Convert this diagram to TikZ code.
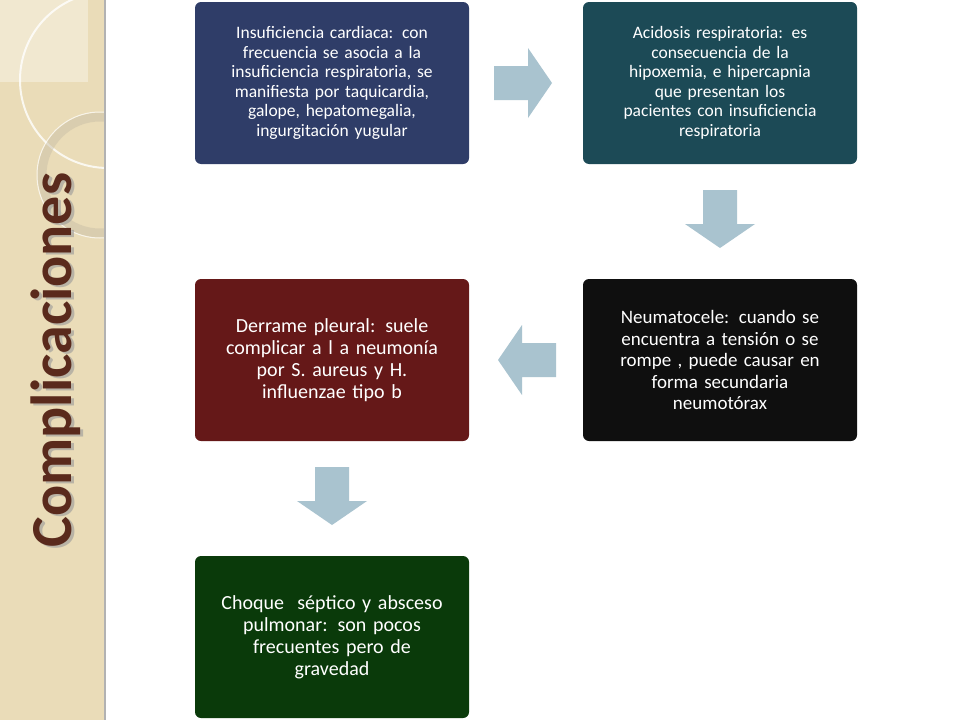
\documentclass[tikz,border=0pt]{standalone}
\usepackage{fontspec}
\setmainfont{Carlito}
\begin{document}
\begin{tikzpicture}[x=1pt,y=-1pt,
  box/.style={rounded corners=6pt,minimum width=274pt,minimum height=162pt,text width=265pt,align=center,text=white,font=\fontsize{17.5}{19.5}\selectfont,inner sep=0pt},
  arr/.style={fill=arrowc,draw=none}]
\definecolor{arrowc}{HTML}{A9C3CF}
\definecolor{c1}{HTML}{2F3D68}
\definecolor{c2}{HTML}{1C4A56}
\definecolor{c3}{HTML}{0F0F0F}
\definecolor{c4}{HTML}{651818}
\definecolor{c5}{HTML}{0A3A0A}
\definecolor{paper}{HTML}{EADCB8}
\definecolor{title}{HTML}{5A2A1C}
\useasboundingbox (0,0) rectangle (960,720);
\fill[white] (0,0) rectangle (960,720);
\begin{scope}
\clip (0,0) rectangle (105,720);
\fill[paper] (0,0) rectangle (105,720);
\fill[white,opacity=0.35] (0,0) rectangle (88,82);
\draw[white,line width=2pt,opacity=0.8] (108,80) circle (88);
\draw[paper!70!gray,line width=9pt,opacity=0.5] (100,175) circle (58);
\draw[white,line width=1pt,opacity=0.7] (100,175) circle (63);
\end{scope}
\draw[gray!60,line width=1.5pt] (105,0) -- (105,720);
\node[rotate=90,font=\fontsize{58}{58}\selectfont\bfseries,text=black!40,opacity=0.6] at (59,362) {Complicaciones};
\node[rotate=90,font=\fontsize{58}{58}\selectfont\bfseries,text=title] (t) at (56,360) {Complicaciones};

\node[box,fill=c1] (b1) at (332,83) {Insuficiencia cardiaca: con\\ frecuencia se asocia a la\\ insuficiencia respiratoria, se\\ manifiesta por taquicardia,\\ galope, hepatomegalia,\\ ingurgitación yugular};
\node[box,fill=c2] (b2) at (720,83) {Acidosis respiratoria: es\\ consecuencia de la\\ hipoxemia, e hipercapnia\\ que presentan los\\ pacientes con insuficiencia\\ respiratoria};
\node[box,fill=c3,font=\fontsize{19}{21.5}\selectfont] (b3) at (720,360) {Neumatocele: cuando se\\ encuentra a tensión o se\\ rompe , puede causar en\\ forma secundaria\\ neumotórax};
\node[box,fill=c4,font=\fontsize{20}{22}\selectfont] (b4) at (332,360) {Derrame pleural: suele\\ complicar a l a neumonía\\ por S. aureus y H.\\ influenzae tipo b};
\node[box,fill=c5,font=\fontsize{20}{22}\selectfont] (b5) at (332,637) {Choque\ \ séptico y absceso\\ pulmonar: son pocos\\ frecuentes pero de\\ gravedad};

\coordinate (a1) at (523,83);
\coordinate (a2) at (720,219);
\coordinate (a3) at (527,360);
\coordinate (a4) at (332,496);
\fill[arr] ([shift={(-29,-17)}]a1) -- ++(34,0) -- ++(0,-18) -- ++(24,35) -- ++(-24,35) -- ++(0,-18) -- ++(-34,0) -- cycle;
\fill[arr] ([shift={(-17,-29)}]a2) -- ++(34,0) -- ++(0,34) -- ++(18,0) -- ++(-35,24) -- ++(-35,-24) -- ++(18,0) -- cycle;
\fill[arr] ([shift={(29,-17)}]a3) -- ++(-34,0) -- ++(0,-18) -- ++(-24,35) -- ++(24,35) -- ++(0,-18) -- ++(34,0) -- cycle;
\fill[arr] ([shift={(-17,-29)}]a4) -- ++(34,0) -- ++(0,34) -- ++(18,0) -- ++(-35,24) -- ++(-35,-24) -- ++(18,0) -- cycle;
\end{tikzpicture}
\end{document}
